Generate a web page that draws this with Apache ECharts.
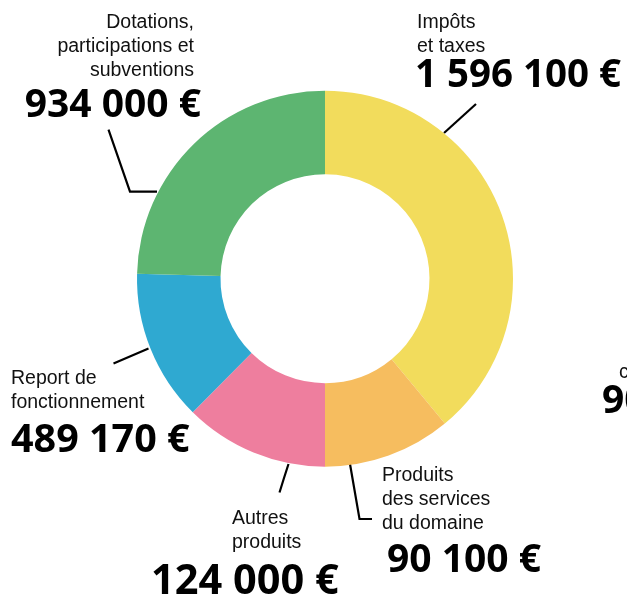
<!DOCTYPE html>
<html>
<head>
<meta charset="utf-8">
<script src="https://cdn.jsdelivr.net/npm/echarts@6/dist/echarts.min.js"></script>
<style>
  html, body { margin: 0; padding: 0; background: #fff; }
  #budgetRing { width: 627px; height: 599px; }
</style>
</head>
<body>
<div id="budgetRing"></div>
<script>
// recettes de fonctionnement, clockwise from the top
const categories = [
  'Impôts\net taxes',
  'Produits\ndes services\ndu domaine',
  'Autres\nproduits',
  'Report de\nfonctionnement',
  'Dotations,\nparticipations et\nsubventions'
];
const amounts = [1596100, 90100, 124000, 489170, 934000];
// the ring in the source is not drawn to scale, so the arcs use the
// shares (degrees of the circle)
const shares = [140.4, 39.6, 44.7, 46.8, 88.5];
const colors = ['#f2dc5c', '#f6bd5f', '#ee7e9e', '#2fa9d1', '#5db571'];

// label spots: names, values and leader lines
const nameSpots = [
  { x: 417, y: 11, align: 'left', line: [[444, 133], [460, 118.5], [476, 104]] },
  { x: 382, y: 464, align: 'left', line: [[350, 464], [359.5, 519], [372, 519]] },
  { x: 232, y: 506.5, align: 'left', line: [[288.5, 464], [284, 478], [279.5, 492.5]] },
  { x: 11, y: 366.5, align: 'left', line: [[148.5, 348.5], [131, 356], [113.5, 363.5]] },
  { x: 194, y: 11, align: 'right', line: [[157, 191.7], [130, 191.7], [108.5, 129.7]] }
];
const valueSpots = [
  { x: 415, y: 76.5, align: 'left', size: 38.5 },
  { x: 387, y: 561, align: 'left', size: 39 },
  { x: 151, y: 582, align: 'left', size: 41.5 },
  { x: 11, y: 441, align: 'left', size: 39.5 },
  { x: 201, y: 105.5, align: 'right', size: 39 }
];

function euros(v) {
  return String(v).replace(/\B(?=(\d{3})+(?!\d))/g, ' ') + ' €';
}

var myChart = echarts.init(document.getElementById('budgetRing'));

const ringData = categories.map(function (name, i) {
  return {
    name: name,
    value: shares[i],
    itemStyle: { color: colors[i] }
  };
});

let option = {
  animation: false,
  backgroundColor: '#fff',
  series: [
    {
      type: 'pie',
      center: [325, 278.7],
      radius: [104.5, 188],
      startAngle: 90,
      clockwise: true,
      avoidLabelOverlap: false,
      silent: true,
      itemStyle: { borderWidth: 0 },
      label: {
        show: true,
        position: 'outside',
        formatter: '{b}',
        fontFamily: 'Liberation Sans',
        fontSize: 19.5,
        lineHeight: 23.8,
        color: '#111'
      },
      labelLine: {
        show: true,
        lineStyle: { color: '#000', width: 2.2 }
      },
      labelLayout: function (params) {
        const s = nameSpots[params.dataIndex];
        return {
          x: s.x,
          y: s.y,
          align: s.align,
          verticalAlign: 'top',
          labelLinePoints: s.line
        };
      },
      data: ringData
    },
    {
      // second pass over the same ring, only to carry the amounts
      type: 'pie',
      center: [325, 278.7],
      radius: [104.5, 188],
      startAngle: 90,
      clockwise: true,
      avoidLabelOverlap: false,
      silent: true,
      itemStyle: { color: 'transparent' },
      label: {
        show: true,
        position: 'outside',
        formatter: function (p) {
          return euros(amounts[p.dataIndex]);
        },
        fontFamily: 'Open Sans',
        fontWeight: 'bold',
        color: '#000'
      },
      labelLine: { show: false },
      labelLayout: function (params) {
        const s = valueSpots[params.dataIndex];
        return {
          x: s.x,
          y: s.y,
          align: s.align,
          verticalAlign: 'middle',
          fontSize: s.size
        };
      },
      data: categories.map(function (name, i) {
        return { name: name, value: shares[i], label: { fontSize: valueSpots[i].size } };
      })
    }
  ],
  // neighbouring label cut off by the right edge
  graphic: [
    {
      type: 'text',
      left: 619,
      top: 363,
      style: { text: 'c', font: '19.5px "Liberation Sans"', fill: '#111' }
    },
    {
      type: 'text',
      left: 602,
      top: 382,
      style: { text: '90', font: 'bold 39px "Open Sans"', fill: '#000' }
    }
  ]
};
myChart.setOption(option);
</script>
</body>
</html>
